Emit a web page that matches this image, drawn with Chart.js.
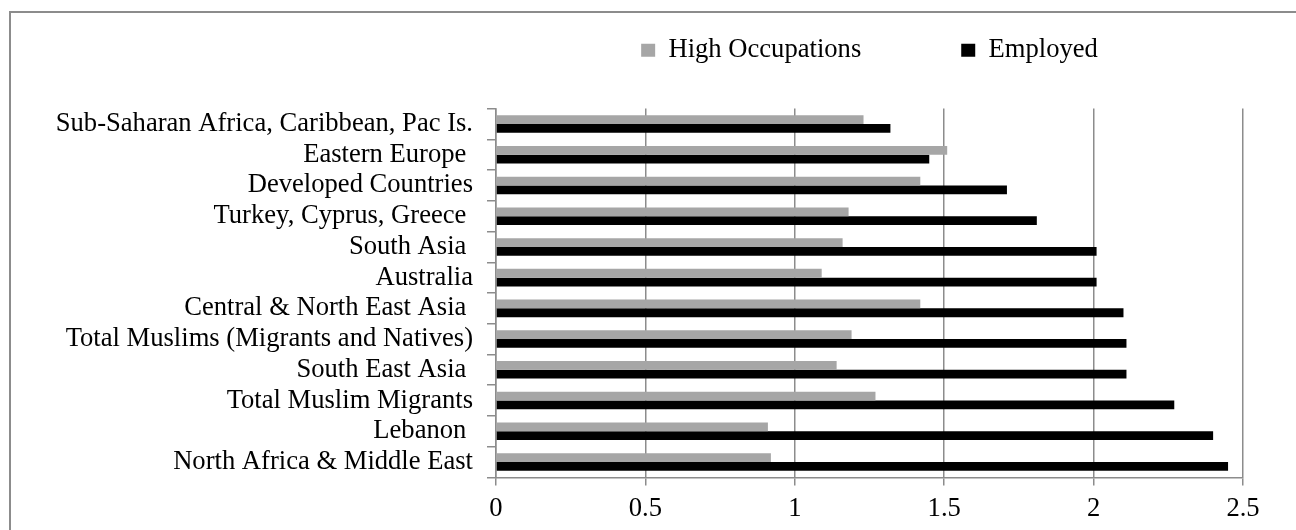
<!DOCTYPE html>
<html>
<head>
<meta charset="utf-8">
<script src="https://cdn.jsdelivr.net/npm/chart.js@4.4.1/dist/chart.umd.min.js"></script>
<style>
  html, body { margin: 0; padding: 0; background: #fff; overflow: hidden; }
  #frame { position: absolute; left: 9px; top: 11px; width: 1400px; height: 700px; border: 2px solid #8c8c8c; }
  /* canvas starts above the window so the legend's top padding is hidden */
  #wrap { position: absolute; left: 0; top: -63px; width: 1296px; height: 603px; }
</style>
</head>
<body>
<div id="frame"></div>
<div id="wrap"><canvas id="ratios" width="1296" height="603"></canvas></div>
<script>
// categories, top to bottom as in the figure
const regions = [
    "Sub-Saharan Africa, Caribbean, Pac Is.",
    "Eastern Europe ",
    "Developed Countries",
    "Turkey, Cyprus, Greece ",
    "South Asia ",
    "Australia",
    "Central & North East Asia ",
    "Total Muslims (Migrants and Natives)",
    "South East Asia ",
    "Total Muslim Migrants",
    "Lebanon ",
    "North Africa & Middle East"
];
const highOccupations = [1.23, 1.51, 1.42, 1.18, 1.16, 1.09, 1.42, 1.19, 1.14, 1.27, 0.91, 0.92];
const employed        = [1.32, 1.45, 1.71, 1.81, 2.01, 2.01, 2.10, 2.11, 2.11, 2.27, 2.40, 2.45];
const xMin = 0, xMax = 2.5, xStep = 0.5;

const serif = "'Liberation Serif', 'Times New Roman', serif";
const gridGrey = '#8c8c8c';
const labelFont = { family: serif, size: 26.6, lineHeight: 1 };

// pushes the plot down below the legend
const legendGap = {
    id: 'legendGap',
    beforeInit(chart) {
        const fit = chart.legend.fit;
        chart.legend.fit = function () {
            fit.call(this);
            this.height += 35;
        };
    }
};

new Chart(document.getElementById('ratios'), {
    type: 'bar',
    data: {
        labels: regions,
        datasets: [
            {
                label: "High Occupations",
                data: highOccupations,
                backgroundColor: '#a6a6a6',
                categoryPercentage: 0.57,
                barPercentage: 1.0
            },
            {
                label: "Employed",
                data: employed,
                backgroundColor: '#000000',
                categoryPercentage: 0.57,
                barPercentage: 1.0
            }
        ]
    },
    options: {
        indexAxis: 'y',
        responsive: false,
        animation: false,
        devicePixelRatio: 1,
        layout: { padding: { top: 0, right: 53, bottom: 8, left: 0 } },
        scales: {
            x: {
                type: 'linear',
                min: xMin,
                max: xMax,
                ticks: {
                    stepSize: xStep,
                    color: '#000',
                    font: labelFont,
                    padding: 10,
                    callback: (v) => String(v)
                },
                grid: { color: gridGrey, lineWidth: 1.5, tickLength: 8 },
                border: { color: gridGrey, width: 1.5 }
            },
            y: {
                grid: { drawOnChartArea: false, offset: true, tickLength: 9, color: gridGrey, lineWidth: 1.5 },
                border: { color: gridGrey, width: 1.5 },
                ticks: { autoSkip: false, color: '#000', font: labelFont, padding: 14 },
                afterFit(scale) { scale.width = 496; }
            }
        },
        plugins: {
            legend: {
                position: 'top',
                fullSize: false,
                labels: { boxWidth: 14, boxHeight: 13, padding: 100, color: '#000', font: labelFont }
            },
            tooltip: { enabled: false }
        }
    },
    plugins: [legendGap]
});
</script>
</body>
</html>
